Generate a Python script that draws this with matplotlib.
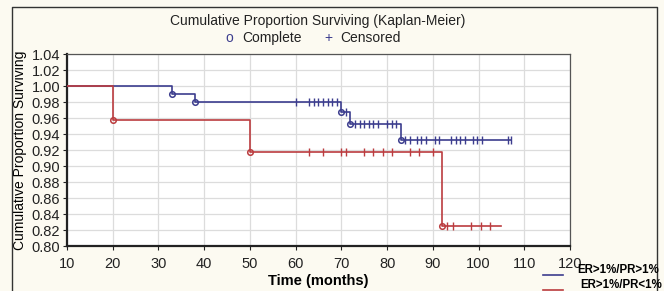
import numpy as np
import matplotlib.pyplot as plt
from matplotlib.lines import Line2D

plt.rcParams['font.family'] = ['Liberation Sans', 'DejaVu Sans']

# ER>1%/PR>1% group
blue_event_t = [33, 38, 70, 72, 83]
blue_surv = [0.99, 0.98, 0.967, 0.953, 0.933]
blue_censor_t = [60, 63, 64, 65, 66, 67, 68, 69, 71,
                 73, 74, 75, 76, 77, 78, 80, 81, 82,
                 84, 85, 86.5, 87.5, 88.5, 90.5, 91.3, 94, 95, 96, 97,
                 98.7, 99.6, 100.7, 106.5, 107.2]
blue_end = 107.2

# ER>1%/PR<1% group
red_event_t = [20, 50, 92]
red_surv = [0.958, 0.917, 0.825]
red_censor_t = [63, 66, 70, 71, 75, 77, 79, 81, 85, 87, 90,
                93, 94.5, 98.3, 100.5, 102.6]
red_end = 105

start_t = 10
blue_c = '#3c3d8e'
red_c = '#bb3c3f'


def level(t, ev_t, surv):
    idx = np.searchsorted(ev_t, t, side='right')
    return 1.0 if idx == 0 else surv[idx - 1]


fig = plt.figure(figsize=(6.64, 2.91), dpi=100)
fig.patch.set_facecolor('#fcfaf1')
ax = fig.add_axes([0.1009, 0.1546, 0.7575, 0.6598])
ax.set_facecolor('white')

for ev_t, surv, cens, end, col in [(blue_event_t, blue_surv, blue_censor_t, blue_end, blue_c),
                                   (red_event_t, red_surv, red_censor_t, red_end, red_c)]:
    xs = [start_t] + ev_t + [end]
    ys = [1.0] + surv + [surv[-1]]
    ax.step(xs, ys, where='post', color=col, lw=1.2, zorder=3)
    ax.plot(ev_t, surv, 'o', ms=4, mfc='none', mec=col, mew=1.1, zorder=4)
    cy = [level(t, ev_t, surv) for t in cens]
    ax.plot(cens, cy, '|', ms=6, color=col, mew=1.0, zorder=4)

ax.set_xlim(10, 120)
ax.set_ylim(0.80, 1.04)
ax.set_xticks(np.arange(10, 121, 10))
ax.set_yticks(np.arange(0.80, 1.041, 0.02))
ax.set_yticklabels([f'{v:.2f}' for v in np.arange(0.80, 1.041, 0.02)])
ax.grid(color='#dcdcdc', lw=0.9)
ax.set_axisbelow(True)
ax.tick_params(labelsize=10.5, length=3, width=0.8, colors='#222222', pad=2)
ax.tick_params(axis='x', pad=5)
for s in ['left', 'bottom']:
    ax.spines[s].set_linewidth(1.6)
    ax.spines[s].set_color('#222222')
for s in ['top', 'right']:
    ax.spines[s].set_linewidth(0.9)
    ax.spines[s].set_color('#555555')

ax.set_xlabel('Time (months)', fontsize=10.5, fontweight='bold', labelpad=2)
ax.set_ylabel('Cumulative Proportion Surviving', fontsize=10, labelpad=3)

fig.text(0.478, 0.928, 'Cumulative Proportion Surviving (Kaplan-Meier)',
         ha='center', va='center', fontsize=10, color='#222222')
fig.text(0.345, 0.868, 'o', ha='center', va='center', fontsize=10, color=blue_c)
fig.text(0.365, 0.868, 'Complete', ha='left', va='center', fontsize=10, color='#222222')
fig.text(0.495, 0.868, '+', ha='center', va='center', fontsize=10, color=blue_c)
fig.text(0.513, 0.868, 'Censored', ha='left', va='center', fontsize=10, color='#222222')

# series legend at bottom right
fig.add_artist(Line2D([0.818, 0.848], [0.055, 0.055], color=blue_c, lw=1.2))
fig.add_artist(Line2D([0.818, 0.848], [0.003, 0.003], color=red_c, lw=1.2))
fig.text(0.870, 0.072, 'ER>1%/PR>1%', ha='left', va='center', fontsize=8.3, fontweight='bold')
fig.text(0.874, 0.022, 'ER>1%/PR<1%', ha='left', va='center', fontsize=8.3, fontweight='bold')

# outer frame
fig.add_artist(Line2D([0.018, 0.018, 0.989, 0.989], [0.0, 0.976, 0.976, 0.0],
                      color='#333333', lw=1.0))

fig.savefig('out.png', dpi=100, facecolor=fig.get_facecolor())
